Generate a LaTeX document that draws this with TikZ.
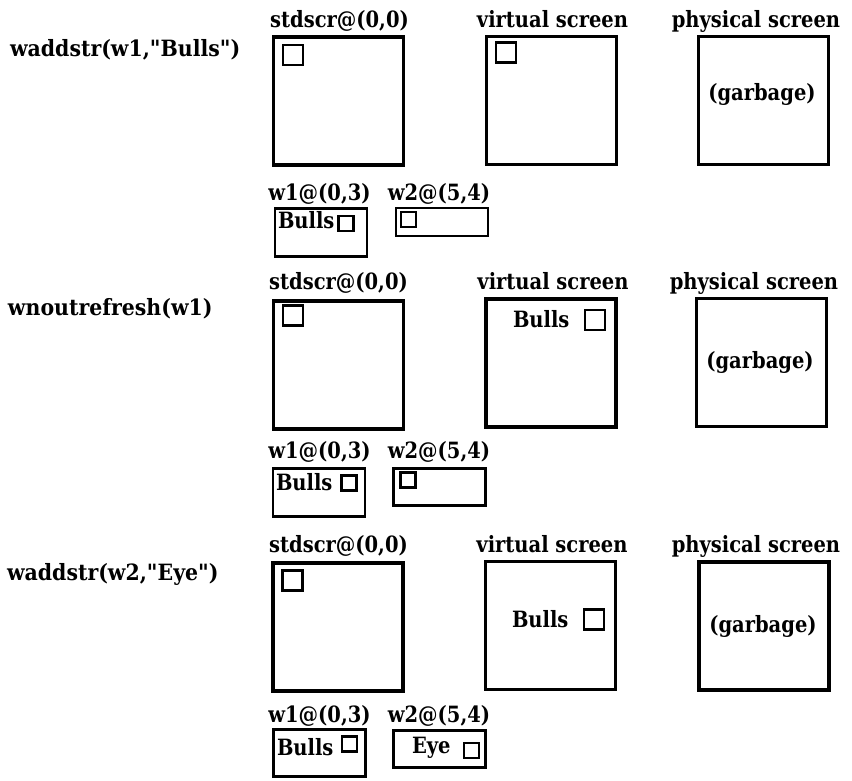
\documentclass[tikz,border=0pt]{standalone}
\usepackage{fontspec}
\usepackage{graphicx}
\setmainfont{DejaVu Serif}[Ligatures=TeXOff]
% bold serif lettering, stretched a little upright
\newcommand{\tx}[1]{\scalebox{1}[1.15]{#1}}
\newcommand{\cmd}[1]{\scalebox{1.05}[1.15]{#1}}
\begin{document}
\begin{tikzpicture}[x=1pt,y=-1pt,
  txt/.style={font=\bfseries\fontsize{19.5}{22}\selectfont, inner sep=0pt, outer sep=0pt},
  screen/.style={draw, line width=3.2pt, minimum width=130pt, minimum height=128pt, inner sep=0pt, outer sep=0pt},
  win/.style={draw, line width=2.9pt, minimum width=92pt, inner sep=0pt, outer sep=0pt},
  cursor/.style={draw, line width=2.7pt, minimum size=20pt, inner sep=0pt, outer sep=0pt},
  smallcur/.style={draw, line width=2.5pt, minimum size=15pt, inner sep=0pt, outer sep=0pt}]
\useasboundingbox (0,0) rectangle (852,780);

% ---------- step 1: waddstr(w1,"Bulls") ----------
\node[txt, anchor=base west] (c1) at (10,56) {\cmd{waddstr(w1,"Bulls")}};
\node[txt, anchor=base] (l1std) at (339.5,27) {\tx{stdscr@(0,0)}};
\node[txt, anchor=base] (l1virt) at (552.5,27) {\tx{virtual screen}};
\node[txt, anchor=base] (l1phys) at (756,27) {\tx{physical screen}};
\node[screen] (s1std) at (338.5,101) {};
\node[screen] (s1virt) at (551.5,100.5) {};
\node[screen] (s1phys) at (763.5,100.5) {};
\node[cursor] (k1std) at (293,55) {};
\node[cursor] (k1virt) at (506,52.5) {};
\node[txt, anchor=base] (g1) at (762,100) {\tx{(garbage)}};
\node[txt, anchor=base] (l1w1) at (319.5,200) {\tx{w1@(0,3)}};
\node[txt, anchor=base] (l1w2) at (439,200) {\tx{w2@(5,4)}};
\node[win, minimum height=48pt] (w1a) at (321,232.5) {};
\node[win, minimum height=28pt] (w2a) at (442,222) {};
\node[txt, anchor=base west] (b1) at (278,228) {\tx{Bulls}};
\node[smallcur] (k1w1) at (346,223.5) {};
\node[smallcur] (k1w2) at (408.5,219.5) {};

% ---------- step 2: wnoutrefresh(w1) ----------
\node[txt, anchor=base west] (c2) at (8,315) {\cmd{wnoutrefresh(w1)}};
\node[txt, anchor=base] (l2std) at (338.5,289) {\tx{stdscr@(0,0)}};
\node[txt, anchor=base] (l2virt) at (553,289) {\tx{virtual screen}};
\node[txt, anchor=base] (l2phys) at (754,289) {\tx{physical screen}};
\node[screen] (s2std) at (338.5,365) {};
\node[screen] (s2virt) at (551,363) {};
\node[screen] (s2phys) at (761.5,362.5) {};
\node[cursor] (k2std) at (293,315.5) {};
\node[txt, anchor=base west] (b2v) at (513,327) {\tx{Bulls}};
\node[cursor] (k2virt) at (595,320) {};
\node[txt, anchor=base] (g2) at (760,368) {\tx{(garbage)}};
\node[txt, anchor=base] (l2w1) at (319.5,458) {\tx{w1@(0,3)}};
\node[txt, anchor=base] (l2w2) at (439,458) {\tx{w2@(5,4)}};
\node[win, minimum height=48pt] (w1b) at (319,492.5) {};
\node[win, minimum height=37pt] (w2b) at (439.5,487) {};
\node[txt, anchor=base west] (b2) at (276,490) {\tx{Bulls}};
\node[smallcur] (k2w1) at (349,483) {};
\node[smallcur] (k2w2) at (408,480) {};

% ---------- step 3: waddstr(w2,"Eye") ----------
\node[txt, anchor=base west] (c3) at (7,580) {\cmd{waddstr(w2,"Eye")}};
\node[txt, anchor=base] (l3std) at (338.5,552) {\tx{stdscr@(0,0)}};
\node[txt, anchor=base] (l3virt) at (552,552) {\tx{virtual screen}};
\node[txt, anchor=base] (l3phys) at (756,552) {\tx{physical screen}};
\node[screen] (s3std) at (338,627) {};
\node[screen] (s3virt) at (550.5,625.5) {};
\node[screen] (s3phys) at (764,626) {};
\node[cursor] (k3std) at (292.5,580.5) {};
\node[txt, anchor=base west] (b3v) at (512,627) {\tx{Bulls}};
\node[cursor] (k3virt) at (594,619.5) {};
\node[txt, anchor=base] (g3) at (763,632) {\tx{(garbage)}};
\node[txt, anchor=base] (l3w1) at (319.5,722) {\tx{w1@(0,3)}};
\node[txt, anchor=base] (l3w2) at (439,722) {\tx{w2@(5,4)}};
\node[win, minimum height=47pt] (w1c) at (319.5,753) {};
\node[win, minimum height=37pt] (w2c) at (439.5,749) {};
\node[txt, anchor=base west] (b3) at (277,755) {\tx{Bulls}};
\node[txt, anchor=base west] (e3) at (412,753) {\tx{Eye}};
\node[smallcur] (k3w1) at (349.5,744) {};
\node[smallcur] (k3w2) at (471.5,750.5) {};
\end{tikzpicture}
\end{document}
